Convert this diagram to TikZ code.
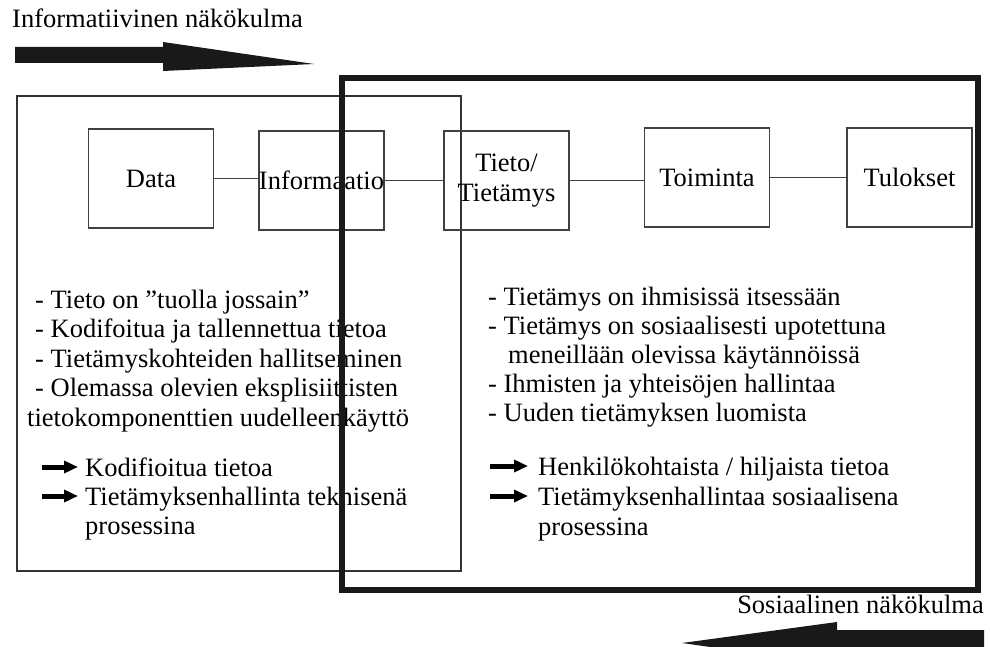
\documentclass[tikz,border=0pt]{standalone}
\usepackage{fontspec}
\setmainfont{Liberation Serif}
\usetikzlibrary{arrows.meta}
\begin{document}
\begin{tikzpicture}[x=1pt,y=-1pt,
  txt/.style={font=\fontsize{26.5}{29.5}\selectfont, inner sep=0pt, anchor=base west},
  stage/.style={draw=black!75, line width=1.1pt, minimum width=125pt, minimum height=99pt,
    inner sep=0pt, align=center, font=\fontsize{26.5}{30}\selectfont},
  link/.style={draw=black!75, line width=1.1pt},
  pointer/.style={line width=5pt, -{Triangle[length=14pt,width=12pt]}},
  bigarrow/.style={fill=black!90, draw=none}]
\useasboundingbox (0,0) rectangle (990,647);

% viewpoint captions and arrows
\node[txt] (infotitle) at (12,28) {Informatiivinen näkökulma};
\fill[bigarrow] (15,47) -- (163,47) -- (163,42) -- (314,64) -- (163,71) -- (163,63) -- (15,63) -- cycle;
\node[txt, anchor=base east] (socialtitle) at (984,613) {Sosiaalinen näkökulma};
\fill[bigarrow] (984,630) -- (837,630) -- (837,622) -- (682,643) -- (837,665) -- (837,660) -- (984,660) -- cycle;

% informational frame
\draw[draw=black!80, line width=1.1pt] (17,96) rectangle (461,571);

% chain of stages
\node[stage] (data)   at (151,178.5) {Data};
\node[stage] (info)   at (321.5,180.5) {Informaatio};
\node[stage] (tieto)  at (506.5,180.5) {Tieto/\\Tietämys};
\node[stage] (toim)   at (707,177.5) {Toiminta};
\node[stage] (tulos)  at (909.5,177.5) {Tulokset};
\draw[link] (data.east) -- (data.east -| info.west);
\draw[link] (info.east) -- (info.east -| tieto.west);
\draw[link] (tieto.east) -- (tieto.east -| toim.west);
\draw[link] (toim.east) -- (toim.east -| tulos.west);

% informational characteristics
\node[txt] (l1) at (35,308) {- Tieto on ”tuolla jossain”};
\node[txt] (l2) at (35,337.5) {- Kodifoitua ja tallennettua tietoa};
\node[txt] (l3) at (35,367) {- Tietämyskohteiden hallitseminen};
\node[txt] (l4) at (35,396.5) {- Olemassa olevien eksplisiittisten};
\node[txt] (l5) at (27,426) {tietokomponenttien uudelleenkäyttö};
\coordinate (la1) at (42,467);
\coordinate (lb1) at (78,467);
\coordinate (la2) at (42,496);
\coordinate (lb2) at (78,496);
\draw[pointer] (la1) -- (lb1);
\draw[pointer] (la2) -- (lb2);
\node[txt] (l6) at (85,476) {Kodifioitua tietoa};
\node[txt] (l7) at (85,505) {Tietämyksenhallinta teknisenä};
\node[txt] (l8) at (85,534) {prosessina};

% social characteristics
\node[txt] (r1) at (488,305) {- Tietämys on ihmisissä itsessään};
\node[txt] (r2) at (488,334) {- Tietämys on sosiaalisesti upotettuna};
\node[txt] (r3) at (508,363) {meneillään olevissa käytännöissä};
\node[txt] (r4) at (488,392) {- Ihmisten ja yhteisöjen hallintaa};
\node[txt] (r5) at (488,421) {- Uuden tietämyksen luomista};
\coordinate (ra1) at (490,466);
\coordinate (rb1) at (528,466);
\coordinate (ra2) at (490,496);
\coordinate (rb2) at (528,496);
\draw[pointer] (ra1) -- (rb1);
\draw[pointer] (ra2) -- (rb2);
\node[txt] (r6) at (538,475) {Henkilökohtaista / hiljaista tietoa};
\node[txt] (r7) at (538,505) {Tietämyksenhallintaa sosiaalisena};
\node[txt] (r8) at (538,535) {prosessina};

% social frame, drawn over everything
\draw[draw=black!90, line width=6pt] (342,78) rectangle (978,590);
\end{tikzpicture}
\end{document}
